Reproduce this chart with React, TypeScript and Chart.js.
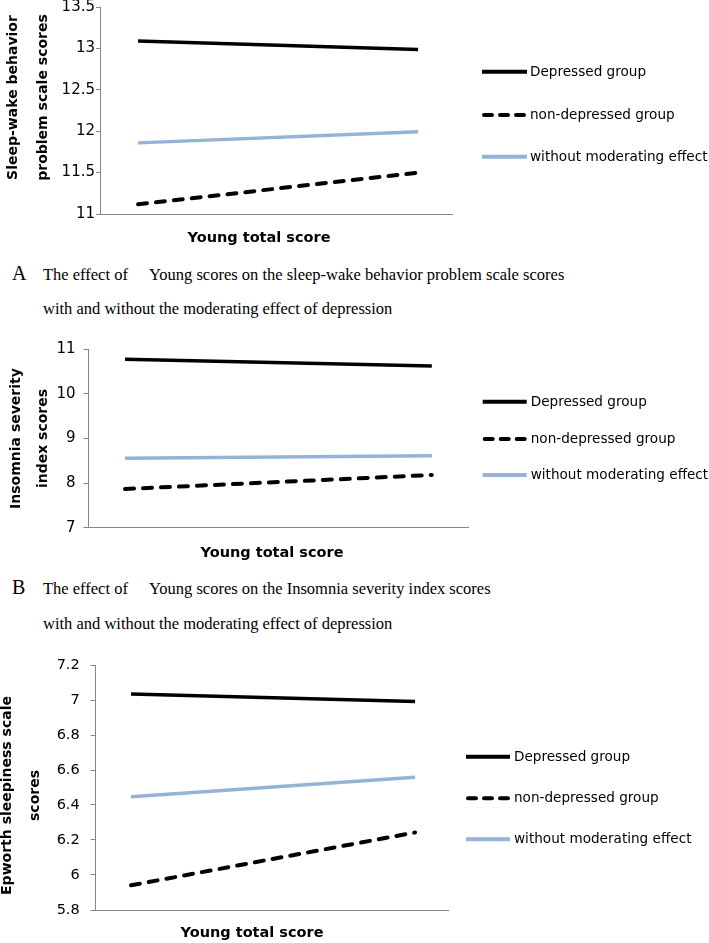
import React, { useEffect, useRef } from 'react';
import { Chart, registerables } from 'chart.js';

Chart.register(...registerables);

// ---------- data ----------
const SERIES_NAMES = ['Depressed group', 'non-depressed group', 'without moderating effect'];
const YOUNG_LEVELS = [0, 1]; // low / high Young total score
const X_TITLE = 'Young total score';

const A_TICKS = [11, 11.5, 12, 12.5, 13, 13.5];
const A_DEPRESSED = [13.088, 12.988];
const A_NON_DEPRESSED = [11.117, 11.5];
const A_WITHOUT = [11.859, 11.994];
const A_Y_TITLE = ['Sleep-wake behavior', 'problem scale scores'];

const B_TICKS = [7, 8, 9, 10, 11];
const B_DEPRESSED = [10.77, 10.62];
const B_NON_DEPRESSED = [7.866, 8.18];
const B_WITHOUT = [8.553, 8.61];
const B_Y_TITLE = ['Insomnia severity', 'index scores'];

const C_TICKS = [5.8, 6, 6.2, 6.4, 6.6, 6.8, 7, 7.2];
const C_DEPRESSED = [7.034, 6.992];
const C_NON_DEPRESSED = [5.941, 6.243];
const C_WITHOUT = [6.447, 6.558];
const C_Y_TITLE = ['Epworth sleepiness scale', 'scores'];

const CAPTION_A = ['The effect of \u3000Young scores on the sleep-wake behavior problem scale scores', 'with and without the moderating effect of depression'];
const CAPTION_B = ['The effect of \u3000Young scores on the Insomnia severity index scores', 'with and without the moderating effect of depression'];

// ---------- styles ----------
const W = 709;
const AXIS = '#868686';
const SERIES_STYLE = [
  { color: '#000000', dash: [] as number[], width: 3.5, cap: 'butt' },
  { color: '#000000', dash: [9, 9], width: 4, cap: 'round' },
  { color: '#95B3D7', dash: [] as number[], width: 3.5, cap: 'butt' },
];

type Panel = {
  top: number;
  height: number;
  ticks: number[];
  values: number[][];
  yTitle: string[];
  area: { left: number; right: number; top: number; bottom: number };
  xRange: [number, number];
  tickPad: number;
  tickLen: number;
  tickFont: number;
  yTitleX: number[];
  yTitleY: number;
  xTitleX: number;
  xTitleY: number;
  legend: { x0: number; x1: number; tx: number; ys: number[] };
};

const PANELS: Panel[] = [
  {
    top: -10, height: 262,
    ticks: A_TICKS,
    values: [A_DEPRESSED, A_NON_DEPRESSED, A_WITHOUT],
    yTitle: A_Y_TITLE,
    area: { left: 100, right: 452, top: 7, bottom: 214 },
    xRange: [-0.1358, 1.121],
    tickPad: 1, tickLen: 4, tickFont: 15,
    yTitleX: [13.5, 43.5], yTitleY: 97.5,
    xTitleX: 259, xTitleY: 238,
    legend: { x0: 482, x1: 527, tx: 530, ys: [71.7, 115, 156.7] },
  },
  {
    top: 330, height: 240,
    ticks: B_TICKS,
    values: [B_DEPRESSED, B_NON_DEPRESSED, B_WITHOUT],
    yTitle: B_Y_TITLE,
    area: { left: 88, right: 468, top: 349, bottom: 527.7 },
    xRange: [-0.1207, 1.118],
    tickPad: 8, tickLen: 4.5, tickFont: 15,
    yTitleX: [16.5, 43.5], yTitleY: 438.5,
    xTitleX: 272, xTitleY: 553,
    legend: { x0: 482.7, x1: 526.7, tx: 530.7, ys: [401.7, 439, 475] },
  },
  {
    top: 640, height: 303,
    ticks: C_TICKS,
    values: [C_DEPRESSED, C_NON_DEPRESSED, C_WITHOUT],
    yTitle: C_Y_TITLE,
    area: { left: 95.7, right: 448.3, top: 665, bottom: 910 },
    xRange: [-0.1243, 1.117],
    tickPad: 11, tickLen: 5, tickFont: 14.5,
    yTitleX: [7.5, 35], yTitleY: 795.5,
    xTitleX: 252, xTitleY: 933,
    legend: { x0: 466, x1: 510, tx: 514, ys: [756.7, 798.3, 839.3] },
  },
];

function ChartPanel({ p }: { p: Panel }) {
  const ref = useRef<HTMLCanvasElement | null>(null);

  useEffect(() => {
    if (!ref.current) return;
    const off = p.top;
    const overlay = {
      id: 'overlay' + off,
      afterDraw(chart: any) {
        const ctx = chart.ctx as CanvasRenderingContext2D;
        ctx.save();
        // y-axis title (two rotated lines)
        ctx.fillStyle = '#000';
        ctx.font = 'bold 14px "DejaVu Sans", sans-serif';
        ctx.textAlign = 'center';
        ctx.textBaseline = 'middle';
        p.yTitle.forEach((t, i) => {
          ctx.save();
          ctx.translate(p.yTitleX[i], p.yTitleY - off);
          ctx.rotate(-Math.PI / 2);
          ctx.fillText(t, 0, 0);
          ctx.restore();
        });
        // x-axis title
        ctx.font = 'bold 14.5px "DejaVu Sans", sans-serif';
        ctx.fillText(X_TITLE, p.xTitleX, p.xTitleY - off);
        // legend
        ctx.textAlign = 'left';
        ctx.font = '13.6px "DejaVu Sans", sans-serif';
        chart.data.datasets.forEach((ds: any, i: number) => {
          const y = p.legend.ys[i] - off;
          const st = SERIES_STYLE[i];
          ctx.save();
          ctx.strokeStyle = ds.borderColor;
          ctx.lineWidth = 4;
          ctx.lineCap = st.dash.length ? 'round' : 'butt';
          ctx.setLineDash(st.dash.length ? [8, 8] : []);
          ctx.beginPath();
          ctx.moveTo(p.legend.x0 + (st.dash.length ? 2 : 0), y);
          ctx.lineTo(p.legend.x1, y);
          ctx.stroke();
          ctx.restore();
          ctx.fillStyle = '#000';
          ctx.fillText(ds.label, p.legend.tx, y + 0.5);
        });
        ctx.restore();
      },
    };

    const datasets = SERIES_NAMES.map((name, i) => ({
      label: name,
      data: YOUNG_LEVELS.map((x, j) => ({ x, y: p.values[i][j] })),
      borderColor: SERIES_STYLE[i].color,
      backgroundColor: SERIES_STYLE[i].color,
      borderWidth: SERIES_STYLE[i].width,
      borderDash: SERIES_STYLE[i].dash,
      borderCapStyle: SERIES_STYLE[i].cap as CanvasLineCap,
      pointRadius: 0,
      fill: false,
      tension: 0,
    }));

    const tmin = Math.min(...p.ticks);
    const tmax = Math.max(...p.ticks);

    const chart = new Chart(ref.current, {
      type: 'line',
      data: { datasets: [datasets[2], datasets[1], datasets[0]].reverse() as any },
      options: {
        responsive: false,
        animation: false,
        devicePixelRatio: 1,
        layout: {
          padding: {
            left: 0,
            top: p.area.top - off,
            right: W - p.area.right,
            bottom: off + p.height - p.area.bottom,
          },
        },
        plugins: { legend: { display: false }, tooltip: { enabled: false } },
        scales: {
          x: {
            type: 'linear',
            min: p.xRange[0],
            max: p.xRange[1],
            ticks: { display: false },
            grid: { display: false },
            border: { display: true, color: AXIS, width: 1 },
            afterFit: (s: any) => { s.height = 0; },
          },
          y: {
            type: 'linear',
            min: tmin,
            max: tmax,
            afterBuildTicks: (s: any) => { s.ticks = p.ticks.map((v) => ({ value: v })); },
            ticks: {
              padding: p.tickPad,
              color: '#000',
              font: { family: '"DejaVu Sans", sans-serif', size: p.tickFont },
              callback: (v: any) => String(Number(Number(v).toFixed(2))),
            },
            grid: { display: true, drawOnChartArea: false, drawTicks: true, tickLength: p.tickLen, color: AXIS },
            border: { display: true, color: AXIS, width: 1 },
            afterFit: (s: any) => { s.width = p.area.left; },
          },
        },
      } as any,
      plugins: [overlay],
    });
    return () => chart.destroy();
  }, []);

  return (
    <canvas
      ref={ref}
      width={W}
      height={p.height}
      style={{ position: 'absolute', left: 0, top: p.top, display: 'block' }}
    />
  );
}

const serif = '"Liberation Serif", "Times New Roman", serif';

function Caption({ letter, lines, y1, y2 }: { letter: string; lines: string[]; y1: number; y2: number }) {
  return (
    <>
      <div style={{ position: 'absolute', left: 12, top: y1 - 13, height: 26, lineHeight: '26px', fontFamily: serif, fontSize: 16.5, whiteSpace: 'pre', color: '#000' }}>
        <span style={{ display: 'inline-block', width: 31, fontSize: 20 }}>{letter}</span>{lines[0]}
      </div>
      <div style={{ position: 'absolute', left: 43, top: y2 - 13, height: 26, lineHeight: '26px', fontFamily: serif, fontSize: 16.5, whiteSpace: 'pre', color: '#000' }}>
        {lines[1]}
      </div>
    </>
  );
}

export default function App() {
  return (
    <div style={{ position: 'absolute', left: 0, top: 0, width: W, height: 943, overflow: 'hidden', background: '#fff' }}>
      {PANELS.map((p, i) => <ChartPanel key={i} p={p} />)}
      <Caption letter="A" lines={CAPTION_A} y1={273} y2={309} />
      <Caption letter="B" lines={CAPTION_B} y1={587} y2={624} />
    </div>
  );
}
